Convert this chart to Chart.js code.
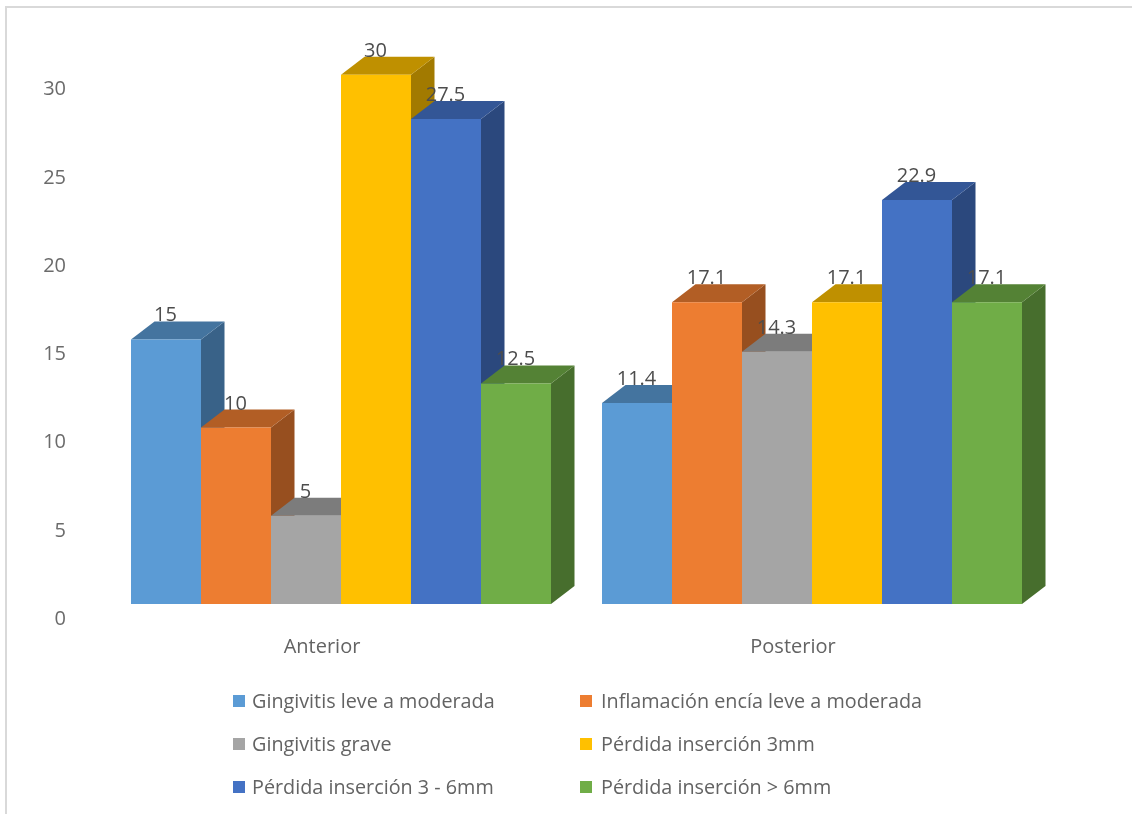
<!DOCTYPE html>
<html><head><meta charset="utf-8">
<style>
html,body{margin:0;padding:0;background:#fff;overflow:hidden}
#wrap{position:absolute;left:0;top:0;width:1132px;height:814px}
#frame{position:absolute;left:5px;top:6px;width:1127px;height:808px;border-left:2px solid #d9d9d9;border-top:2px solid #d9d9d9;box-sizing:border-box}
canvas{position:absolute;left:0;top:0}
</style>
<script src="https://cdn.jsdelivr.net/npm/chart.js@4"></script>
</head><body>
<div id="wrap"><div id="frame"></div><canvas id="c" width="1132" height="814"></canvas></div>
<script>
const categories = ["Anterior", "Posterior"];
const gingivitisLeve = [15, 11.4];
const inflamacion = [10, 17.1];
const gingivitisGrave = [5, 14.3];
const perdida3 = [30, 17.1];
const perdida36 = [27.5, 22.9];
const perdida6 = [12.5, 17.1];
const seriesNames = ["Gingivitis leve a moderada", "Inflamación encía leve a moderada", "Gingivitis grave", "Pérdida inserción 3mm", "Pérdida inserción 3 - 6mm", "Pérdida inserción > 6mm"];
const seriesValues = [gingivitisLeve, inflamacion, gingivitisGrave, perdida3, perdida36, perdida6];
const seriesColors = ["#5B9BD5", "#ED7D31", "#A5A5A5", "#FFC000", "#4472C4", "#70AD47"];
const topColors = ["#44749F", "#B25E25", "#7C7C7C", "#BF9000", "#335696", "#548235"];
const sideColors = ["#396288", "#974F1F", "#696969", "#A27A00", "#2B487D", "#476E2D"];
const FONT = '"Open Sans"';
const DX = 23.5, DY = 18;

const bars3d = {
  id: 'bars3d',
  beforeDatasetsDraw(chart) {
    const ctx = chart.ctx;
    for (let c = 0; c < categories.length; c++) {
      chart.data.datasets.forEach((ds, i) => {
        const b = chart.getDatasetMeta(i).data[c];
        const l = b.x - b.width / 2, r = b.x + b.width / 2, t = b.y, bo = b.base;
        ctx.fillStyle = sideColors[i];
        ctx.beginPath();
        ctx.moveTo(r, t); ctx.lineTo(r + DX, t - DY); ctx.lineTo(r + DX, bo - DY); ctx.lineTo(r, bo);
        ctx.closePath(); ctx.fill();
        ctx.fillStyle = topColors[i];
        ctx.beginPath();
        ctx.moveTo(l, t); ctx.lineTo(l + DX, t - DY); ctx.lineTo(r + DX, t - DY); ctx.lineTo(r, t);
        ctx.closePath(); ctx.fill();
      });
    }
  },
  afterDatasetsDraw(chart) {
    const ctx = chart.ctx;
    ctx.save();
    ctx.font = '20px ' + FONT;
    ctx.fillStyle = '#4d4d4d';
    ctx.textAlign = 'center';
    ctx.textBaseline = 'alphabetic';
    chart.data.datasets.forEach((ds, i) => {
      chart.getDatasetMeta(i).data.forEach((b, c) => {
        ctx.fillText(String(ds.data[c]), b.x - 0.5, b.y - DY);
      });
    });
    ctx.restore();
  },
  afterDraw(chart) {
    const ctx = chart.ctx;
    const colX = [233, 580], textX = [252, 601], rowY = [702, 745, 788];
    ctx.save();
    ctx.font = '19.8px ' + FONT;
    ctx.textAlign = 'left';
    ctx.textBaseline = 'middle';
    chart.data.datasets.forEach((ds, i) => {
      const y = rowY[Math.floor(i / 2)];
      ctx.fillStyle = seriesColors[i];
      ctx.fillRect(colX[i % 2], y - 7, 12, 12);
      ctx.fillStyle = '#636363';
      ctx.fillText(ds.label, textX[i % 2], y);
    });
    ctx.restore();
  }
};

new Chart(document.getElementById('c'), {
  type: 'bar',
  data: {
    labels: categories,
    datasets: seriesNames.map((n, i) => ({
      label: n, data: seriesValues[i], backgroundColor: seriesColors[i], borderWidth: 0,
      barPercentage: 1, categoryPercentage: 420 / 471
    }))
  },
  options: {
    responsive: false,
    animation: false,
    layout: { padding: { top: 39.5, right: 84.5, left: 0, bottom: 0 } },
    plugins: { legend: { display: false }, tooltip: { enabled: false } },
    scales: {
      x: {
        grid: { display: false, drawTicks: false }, border: { display: false },
        ticks: { padding: 31, labelOffset: -19, color: '#636363', font: { family: FONT, size: 20 } },
        afterFit(s) { s.height = 210; }
      },
      y: {
        min: 0, max: 32,
        grid: { display: false, drawTicks: false }, border: { display: false },
        ticks: { stepSize: 5, includeBounds: false, labelOffset: 15, padding: 39.5, color: '#6b6b6b', font: { family: FONT, size: 20 } },
        afterFit(s) { s.width = 105.5; s.paddingTop = 0; s.paddingBottom = 0; }
      }
    }
  },
  plugins: [bars3d]
});
</script>
</body></html>
